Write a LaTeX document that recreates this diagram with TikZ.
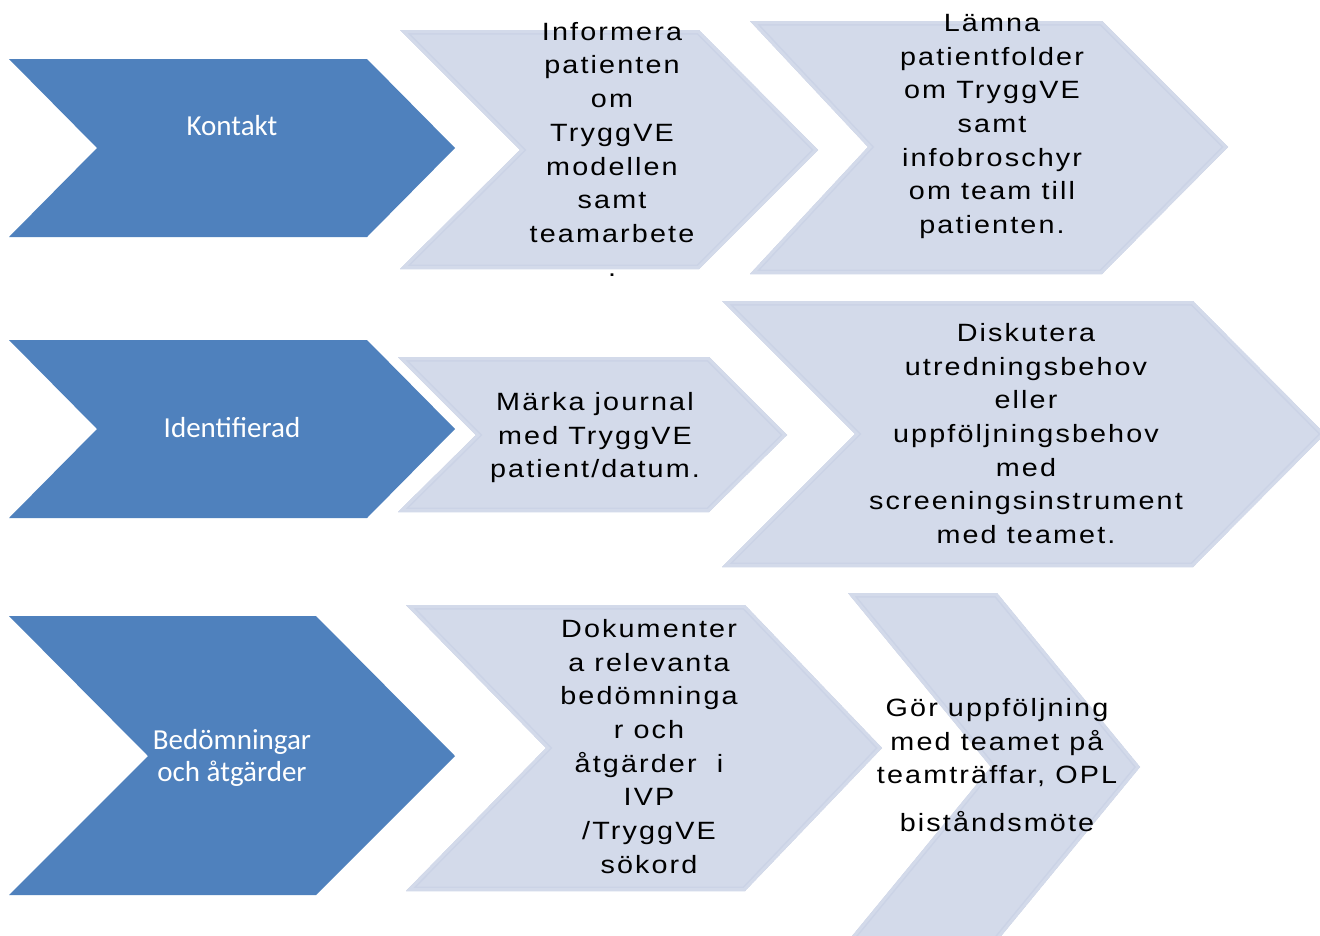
\documentclass[tikz,border=0pt]{standalone}
\usepackage{fontspec}
\newfontfamily\darkfont{Carlito}
\newfontfamily\lightfont[LetterSpace=8.5,FakeStretch=1.15]{Liberation Sans}
\definecolor{darkblue}{RGB}{79,129,189}
\definecolor{lightfill}{RGB}{211,218,234}
\definecolor{lightedge}{RGB}{203,211,230}
\tikzset{
  darkchev/.style={fill=darkblue, draw=none},
  darktext/.style={font=\darkfont\fontsize{29}{32.5}\selectfont, text=white, inner sep=0pt, align=center},
  lighttext/.style={font=\lightfont\fontsize{25}{33.7}\selectfont, text=black, inner sep=0pt, align=center, anchor=north},
}
\newcommand\lightchev[1]{%
  \begin{scope}
    \clip #1;
    \fill[lightfill] #1;
    \draw[lightedge, line width=9pt, line join=miter] #1;
    \draw[lightfill, line width=6pt, line join=miter] #1;
  \end{scope}}
\begin{document}
\begin{tikzpicture}[x=1pt, y=-1pt]
  \useasboundingbox (0,0) rectangle (1320,935);
  \fill[white] (0,0) rectangle (1320,935);

  % Row 1
  \fill[darkchev] (9,59) -- (367,59) -- (455,148) -- (367,237) -- (9,237) -- (97,148) -- cycle;
  \lightchev{(400,30) -- (699,30) -- (818,150) -- (699,269) -- (400,269) -- (520,150) -- cycle}
  \lightchev{(750,21) -- (1102,21) -- (1228,147) -- (1102,274) -- (750,274) -- (868,147) -- cycle}

  % Row 2
  \fill[darkchev] (9,340) -- (367,340) -- (455,429) -- (367,518) -- (9,518) -- (97,429) -- cycle;
  \lightchev{(398,357) -- (709,357) -- (787,435) -- (709,512) -- (398,512) -- (476,435) -- cycle}
  \lightchev{(722,301) -- (1193,301) -- (1325,434) -- (1193,567) -- (722,567) -- (855,434) -- cycle}

  % Row 3
  \fill[darkchev] (9,616) -- (316,616) -- (455,756) -- (316,895) -- (9,895) -- (148,756) -- cycle;
  \lightchev{(406,605) -- (745,605) -- (882,748) -- (745,891) -- (406,891) -- (546,748) -- cycle}
  \lightchev{(848,593) -- (997,593) -- (1140,767) -- (997,941) -- (848,941) -- (991,767) -- cycle}

  % Texts
  \node[darktext, anchor=base] (kontakt) at (232,135) {Kontakt};
  \node[darktext, anchor=base] (ident) at (232,437) {Identifierad};
  \node[darktext, anchor=north] (bedom) at (232,729) {Bedömningar\\och åtgärder};

  \node[lighttext] (informera) at (612,22) {Informera\\patienten\\om\\TryggVE\\modellen\\samt\\teamarbete\\.};
  \node[lighttext] (lamna) at (992,14) {Lämna\\patientfolder\\om TryggVE\\samt\\infobroschyr\\om team till\\patienten.};
  \node[lighttext] (marka) at (595,392) {Märka journal\\med TryggVE\\patient/datum.};
  \node[lighttext] (diskutera) at (1026,323) {Diskutera\\utredningsbehov\\eller\\uppföljningsbehov\\med\\screeningsinstrument\\med teamet.};
  \node[lighttext] (dokumentera) at (649,619) {Dokumenter\\a relevanta\\bedömninga\\r och\\åtgärder\ \ i\\IVP\\/TryggVE\\sökord};
  \node[lighttext] (gor) at (997,698) {Gör uppföljning\\med teamet på\\teamträffar, OPL\\[14pt]biståndsmöte};
\end{tikzpicture}
\end{document}
